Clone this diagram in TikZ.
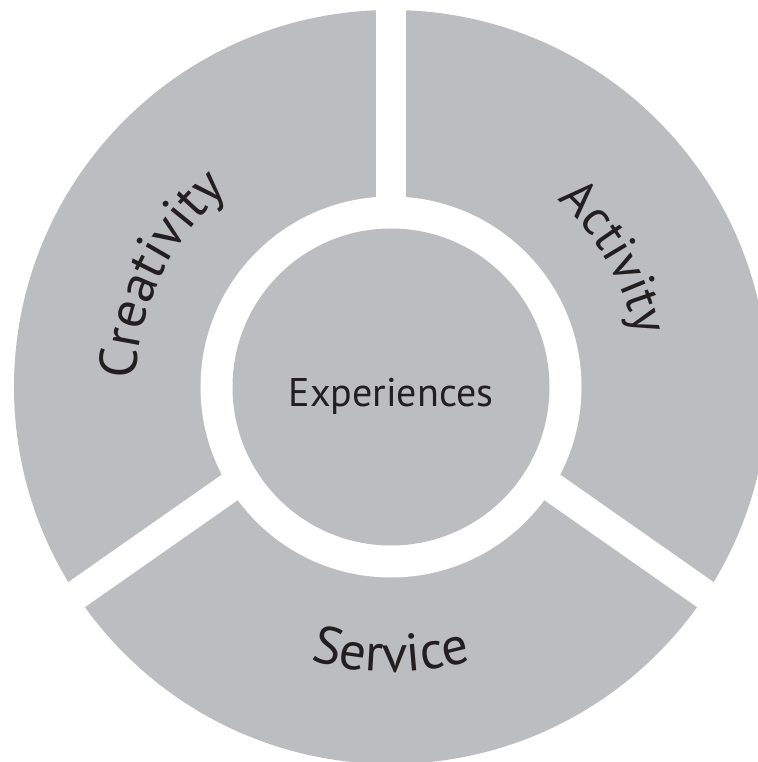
\documentclass[tikz,border=0pt]{standalone}
\usepackage{fontspec}
\setmainfont{PT Sans}
\usetikzlibrary{decorations.text}

\definecolor{wheelgray}{HTML}{BCBDC0}
\definecolor{labelink}{HTML}{231F20}
\newcommand{\arcfont}{\fontsize{50}{54}\selectfont\color{labelink}}
\newcommand{\wideArcfont}{\fontsize{53}{57}\selectfont\color{labelink}}

\tikzset{
  gap/.style={white,line width=30},
  arclabel/.style={decorate,decoration={text along path,text align=center,text={|\arcfont|#1}}},
  widearclabel/.style={decorate,decoration={text along path,text align=center,text={|\wideArcfont|#1}}}
}

\begin{document}
\begin{tikzpicture}[x=1pt,y=1pt]
\useasboundingbox (-391,-375) rectangle (366,387);
\fill[wheelgray] (0,0) circle (377);
% the three cuts
\draw[gap] (0,0) -- (0,400);
\draw[gap] (0,12.5) -- ++(-35:500);
\draw[gap] (0,12.5) -- ++(215:500);
\fill[white] (0,0) circle (190.5);
\node[circle,fill=wheelgray,minimum size=317,inner sep=0] (hub) at (0,0) {};
\node[anchor=base,text=labelink,font=\fontsize{40}{44}\selectfont] (hublabel) at (0,-20) {Experiences};
% labels round the ring
\path[widearclabel=Creativity] (204:255) arc[start angle=204,end angle=104,radius=255];
\path[arclabel=Activity] (80:250) arc[start angle=80,end angle=-20,radius=250];
\path[widearclabel=Service] (220:285) arc[start angle=220,end angle=320,radius=285];
\end{tikzpicture}
\end{document}
